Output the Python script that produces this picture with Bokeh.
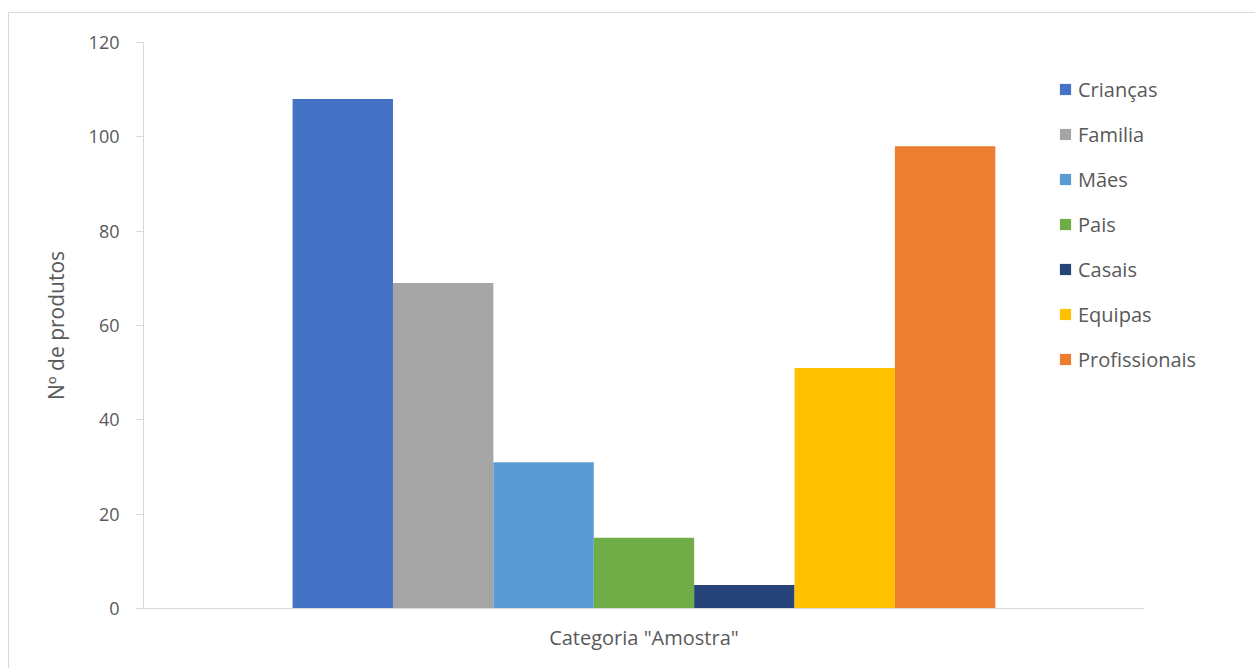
from bokeh.plotting import figure
from bokeh.models import ColumnDataSource, Range1d, Legend, LegendItem
from bokeh.embed import file_html
from bokeh.resources import INLINE

category = 'Categoria "Amostra"'
series = ["Crianças", "Familia", "Mães", "Pais", "Casais", "Equipas", "Profissionais"]
values = [108, 69, 31, 15, 5, 51, 98]
colors = ["#4472C4", "#A5A5A5", "#5B9BD5", "#70AD47", "#264478", "#FFC000", "#ED7D31"]
y_ticks = [0, 20, 40, 60, 80, 100, 120]

FONT = "Open Sans"
TXT = "#595959"
AX = "#d9d9d9"

p = figure(width=1247, height=656, output_backend="svg", toolbar_location=None,
           x_range=Range1d(0, 1.112), y_range=Range1d(0, 120),
           min_border_left=134, min_border_right=0, min_border_top=29, min_border_bottom=61)
p.margin = (12, 0, 0, 8)
p.styles = {"border-left": "1px solid #d9d9d9", "border-top": "1px solid #d9d9d9"}

bar_w = 0.1003
center = 0.5
n = len(series)
items = []
for i, (s, v, c) in enumerate(zip(series, values, colors)):
    src = ColumnDataSource(dict(x=[center + (i - (n - 1) / 2) * bar_w], val=[v]))
    r = p.vbar(x="x", top="val", width=bar_w, source=src, fill_color=c, line_color=None)
    items.append(LegendItem(label=s, renderers=[r]))

legend = Legend(items=items, location=(915, 234), padding=0, margin=0,
                border_line_color=None, background_fill_alpha=0,
                glyph_width=14, glyph_height=14, label_height=30, spacing=15,
                label_standoff=6, label_text_font=FONT, label_text_font_size="20px",
                label_text_color=TXT)
p.add_layout(legend, "center")

p.xgrid.grid_line_color = None
p.ygrid.grid_line_color = None
p.outline_line_color = None

p.yaxis.ticker = y_ticks
p.yaxis.axis_line_color = AX
p.yaxis.major_tick_line_color = AX
p.yaxis.major_tick_out = 8
p.yaxis.major_tick_in = 0
p.yaxis.minor_tick_line_color = None
p.yaxis.major_label_standoff = 16
p.yaxis.major_label_text_font = FONT
p.yaxis.major_label_text_font_size = "18px"
p.yaxis.major_label_text_color = TXT
p.yaxis.axis_label = "Nº de produtos"
p.yaxis.axis_label_text_font = FONT
p.yaxis.axis_label_text_font_size = "21px"
p.yaxis.axis_label_text_font_style = "normal"
p.yaxis.axis_label_text_color = TXT
p.yaxis.axis_label_standoff = 16

p.xaxis.ticker = [center]
p.xaxis.major_label_overrides = {center: category}
p.xaxis.bounds = (0, 1)
p.xaxis.axis_line_color = AX
p.xaxis.major_tick_line_color = None
p.xaxis.minor_tick_line_color = None
p.xaxis.major_label_standoff = 9
p.xaxis.major_label_text_font = FONT
p.xaxis.major_label_text_font_size = "20px"
p.xaxis.major_label_text_color = TXT

open("out.html", "w").write(file_html(p, INLINE))
